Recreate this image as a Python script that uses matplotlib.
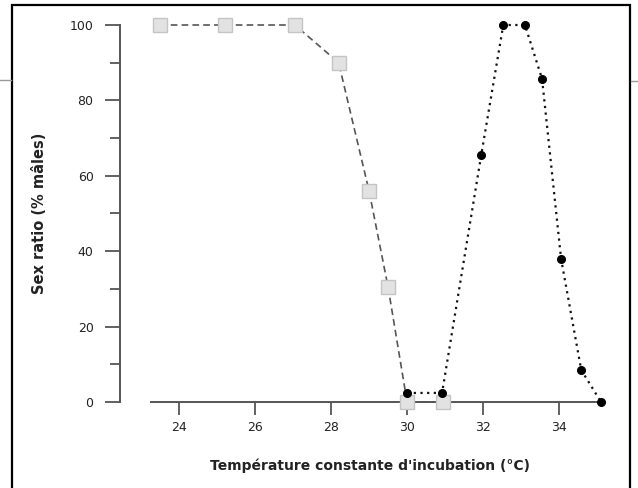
import matplotlib
matplotlib.use("Agg")
import matplotlib.pyplot as plt
from matplotlib.lines import Line2D
from matplotlib.patches import Rectangle

# Data
temp_sq = [23.5, 25.2, 27.05, 28.2, 29.0, 29.5, 30.0, 30.95]
ratio_sq = [100, 100, 100, 90, 56, 30.5, 0, 0]
temp_ci = [30.0, 30.92, 31.95, 32.53, 33.1, 33.55, 34.05, 34.58, 35.1]
ratio_ci = [2.4, 2.4, 65.5, 100, 100, 85.7, 38, 8.5, 0]
xticks = [24, 26, 28, 30, 32, 34]
yticks = [0, 20, 40, 60, 80, 100]
yminor = [10, 30, 50, 70, 90]

W, H = 638, 488
fig = plt.figure(figsize=(W / 100, H / 100), dpi=100)
fig.patch.set_facecolor("white")

# axes: left x=120, right x=601, bottom y=402, top y=25 (pixels)
ax = fig.add_axes([120 / W, 1 - 402 / H, (601 - 120) / W, (402 - 25) / H])
ax.set_xlim(22.45, 35.1)
ax.set_ylim(0, 100)

spc = "#555555"
for s in ["top", "right"]:
    ax.spines[s].set_visible(False)
ax.spines["left"].set_color(spc)
ax.spines["bottom"].set_color(spc)
ax.spines["left"].set_linewidth(1.4)
ax.spines["bottom"].set_linewidth(1.4)
ax.spines["bottom"].set_bounds(23.26, 35.1)

ax.set_xticks(xticks)
ax.set_yticks(yticks)
ax.set_yticks(yminor, minor=True)
ax.tick_params(axis="y", which="major", length=11, width=1.3, color=spc, pad=8,
               labelsize=9, labelcolor="#222222")
ax.tick_params(axis="y", which="minor", length=7, width=1.3, color=spc)
ax.tick_params(axis="x", which="major", length=9, width=1.3, color=spc, pad=5,
               labelsize=9, labelcolor="#222222")

ax.plot(temp_sq, ratio_sq, linestyle=(0, (4, 2.5)), color="#555555", linewidth=1.2,
        marker="s", markersize=10.5, markerfacecolor="#e2e2e2",
        markeredgecolor="#c4c4c4", markeredgewidth=1.0, clip_on=False, zorder=3)
ax.plot(temp_ci, ratio_ci, linestyle=(0, (1, 2)), color="#111111", linewidth=1.6,
        marker="o", markersize=5.5, markerfacecolor="black", markeredgecolor="black",
        clip_on=False, zorder=4)

fig.text(40 / W, 1 - 213 / H, "Sex ratio (% mâles)", rotation=90, ha="center",
         va="center", fontsize=10.5, fontweight="bold", color="#222222")
fig.text(370 / W, 1 - 466 / H, "Température constante d'incubation (°C)",
         ha="center", va="center", fontsize=10, fontweight="bold", color="#222222")

# page frame
fig.add_artist(Rectangle((11.5 / W, -0.05), (630 - 11.5) / W, (1 - 5.5 / H) + 0.05,
                         transform=fig.transFigure, fill=False, edgecolor="black",
                         linewidth=1.6))
fig.add_artist(Line2D([0, 11 / W], [1 - 80 / H, 1 - 80 / H], transform=fig.transFigure,
                      color="#999999", linewidth=1))
fig.add_artist(Line2D([631 / W, 1], [1 - 81 / H, 1 - 81 / H], transform=fig.transFigure,
                      color="#999999", linewidth=1))

fig.savefig("out.png", dpi=100, facecolor="white")
